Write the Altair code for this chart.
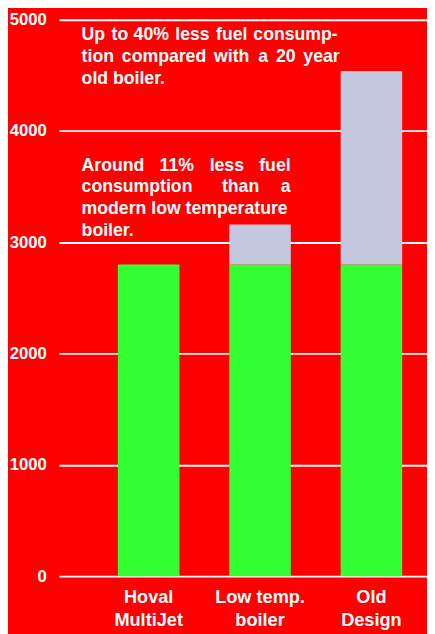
import altair as alt
import pandas as pd

# ---- data ----
categories = ["Hoval\nMultiJet", "Low temp.\nboiler", "Old\nDesign"]
base_values = [2800, 2800, 2800]      # green part (same consumption level)
extra_values = [0, 360, 1740]         # additional consumption (lavender)
y_ticks = [0, 1000, 2000, 3000, 4000, 5000]

rows = []
for c, b, e in zip(categories, base_values, extra_values):
    rows.append({"cat": c, "part": "base", "ord": 0, "val": b})
    rows.append({"cat": c, "part": "extra", "ord": 1, "val": e})
df = pd.DataFrame(rows)

# ---- annotation text (word by word to imitate justified text) ----
# (word, x, y, align) in plot-area pixels
annot = [
    ("Up", 23, 21, "left"), ("to", 62, 21, "center"), ("40%", 94, 21, "center"),
    ("less", 136, 21, "center"), ("fuel", 176, 21, "center"), ("consump-", 284, 21, "right"),
    ("tion", 23, 43, "left"), ("compared", 107, 43, "center"), ("with", 176, 43, "center"),
    ("a", 208, 43, "center"), ("20", 231, 43, "center"), ("year", 286, 43, "right"),
    ("old boiler.", 23, 65, "left"),
    ("Around", 23, 154, "left"), ("11%", 120, 154, "center"), ("less", 171, 154, "center"),
    ("fuel", 236, 154, "right"),
    ("consumption", 23, 176, "left"), ("than", 185, 176, "center"), ("a", 236, 176, "right"),
    ("modern low temperature", 23, 198, "left"),
    ("boiler.", 23, 220, "left"),
]
adf = pd.DataFrame(annot, columns=["word", "px", "py", "al"])

FONT = "Liberation Sans, Arial, Helvetica, sans-serif"

bars = alt.Chart(df).mark_bar().encode(
    x=alt.X("cat:N", sort=categories, title=None,
            scale=alt.Scale(paddingInner=0.4476, paddingOuter=0.3758, align=0.7034),
            axis=alt.Axis(labelExpr="split(datum.label, '\\n')", labelAngle=0,
                          labelFont=FONT, labelFontSize=18.5, labelFontWeight="bold",
                          labelColor="white", labelPadding=12, labelLineHeight=23,
                          labelBaseline="top", ticks=False, domain=False, grid=False)),
    y=alt.Y("val:Q", stack="zero", title=None,
            scale=alt.Scale(domain=[0, 5000], nice=False),
            axis=alt.Axis(values=y_ticks, format="d", labelFont=FONT, labelFontSize=17,
                          labelFontWeight="bold", labelColor="white", labelPadding=13,
                          ticks=False, domain=False, grid=True, gridColor="white",
                          gridWidth=2, gridOpacity=1)),
    color=alt.Color("part:N", legend=None,
                    scale=alt.Scale(domain=["base", "extra"], range=["#33ff33", "#c3c8e0"])),
    order=alt.Order("ord:Q"),
)

def text_layer(al):
    return alt.Chart(adf[adf["al"] == al]).mark_text(
        align=al, baseline="alphabetic", font=FONT, fontSize=18,
        fontWeight="bold", color="white"
    ).encode(
        x=alt.X("px:Q", scale=None, axis=None),
        y=alt.Y("py:Q", scale=None, axis=None),
        text="word:N",
    )

chart = alt.layer(
    bars, text_layer("left"), text_layer("center"), text_layer("right")
).properties(
    width=375, height=567,
    padding={"left": 52, "top": 6, "right": 0, "bottom": 53},
    autosize=alt.AutoSizeParams(type="none"),
    background="#ff0000",
).configure_view(stroke=None)

chart.save("out.html", embed_options={"renderer": "svg", "actions": False})
